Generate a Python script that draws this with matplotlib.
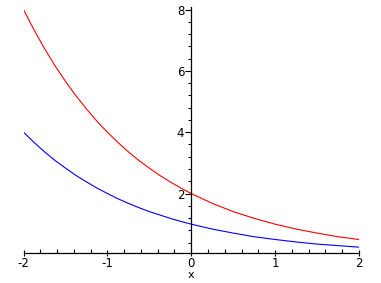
import matplotlib
matplotlib.use("Agg")
import matplotlib.pyplot as plt
from matplotlib.ticker import MultipleLocator

plt.rcParams["axes.unicode_minus"] = False

# values
x = [-2, -1.875, -1.75, -1.625, -1.5, -1.375, -1.25, -1.125, -1,
     -0.875, -0.75, -0.625, -0.5, -0.375, -0.25, -0.125, 0,
     0.25, 0.5, 0.75, 1, 1.25, 1.5, 1.75, 2]
red = [8.0, 7.34, 6.73, 6.17, 5.66, 5.19, 4.76, 4.36, 4.0,
       3.67, 3.36, 3.08, 2.83, 2.59, 2.38, 2.18, 2.0,
       1.68, 1.41, 1.19, 1.0, 0.84, 0.71, 0.59, 0.5]
blue = [4.0, 3.67, 3.36, 3.08, 2.83, 2.59, 2.38, 2.18, 2.0,
        1.83, 1.68, 1.54, 1.41, 1.30, 1.19, 1.09, 1.0,
        0.84, 0.71, 0.59, 0.5, 0.42, 0.35, 0.30, 0.25]
xticks = [-2, -1, 0, 1, 2]
yticks = [2, 4, 6, 8]

fig = plt.figure(figsize=(3.81, 2.83), dpi=100)
ax = fig.add_axes([0.0617, 0.105, 0.8803, 0.872])

ax.plot(x, red, color="red", lw=0.8)
ax.plot(x, blue, color="blue", lw=0.8)

ax.set_xlim(-2, 2)
ax.set_ylim(0.05, 8.1)

ax.spines["top"].set_visible(False)
ax.spines["right"].set_visible(False)
ax.spines["left"].set_position(("data", 0))
for s in ("left", "bottom"):
    ax.spines[s].set_linewidth(0.9)

ax.set_xticks(xticks)
ax.set_yticks(yticks)
ax.xaxis.set_minor_locator(MultipleLocator(0.2))
ax.yaxis.set_minor_locator(MultipleLocator(0.4))
ax.tick_params(axis="x", which="major", direction="inout", length=5, width=0.8,
               labelsize=8.5, pad=0.5)
ax.tick_params(axis="x", which="minor", direction="in", length=3, width=0.8)
ax.tick_params(axis="y", which="major", direction="out", length=4, width=0.8,
               labelsize=8.5, pad=1)
ax.tick_params(axis="y", which="minor", direction="out", length=2.5, width=0.8)

ax.set_xlabel("x", fontsize=8, labelpad=-0.5)

fig.savefig("out.png", dpi=100)
